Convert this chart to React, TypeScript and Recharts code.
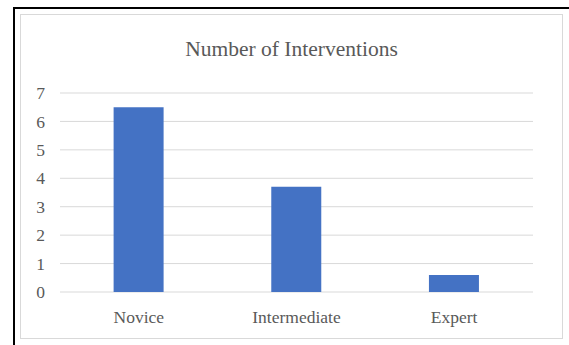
import { BarChart, Bar, XAxis, YAxis, CartesianGrid } from 'recharts';

const levels = ['Novice', 'Intermediate', 'Expert'];
const interventions = [6.5, 3.7, 0.6];
const yTicks = [0, 1, 2, 3, 4, 5, 6, 7];

const chartData = levels.map((level, i) => ({ level, count: interventions[i] }));

const FONT = '"Liberation Serif", "Times New Roman", serif';
const TEXT = '#595959';

export default function App() {
    return (
        <div style={{ position: 'absolute', left: 0, top: 0, width: 569, height: 345, background: '#fff', overflow: 'hidden' }}>
            {/* outer frame */}
            <div
                style={{
                    position: 'absolute',
                    left: 13,
                    top: 7,
                    width: 600,
                    height: 400,
                    borderTop: '2px solid #000',
                    borderLeft: '2px solid #000'
                }}
            />
            {/* chart area border */}
            <div
                style={{
                    position: 'absolute',
                    left: 20,
                    top: 14,
                    width: 543,
                    height: 325,
                    boxSizing: 'border-box',
                    border: '1px solid #d9d9d9'
                }}
            />
            <div
                style={{
                    position: 'absolute',
                    left: 20,
                    top: 39,
                    width: 543,
                    textAlign: 'center',
                    fontFamily: FONT,
                    fontSize: 21.5,
                    lineHeight: '21px',
                    color: TEXT
                }}
            >
                Number of Interventions
            </div>
            <div style={{ position: 'absolute', left: 20, top: 14 }}>
                <BarChart
                    width={543}
                    height={325}
                    data={chartData}
                    margin={{ top: 79, right: 30, left: 0, bottom: 17 }}
                    barCategoryGap="34%"
                >
                    <CartesianGrid vertical={false} stroke="#d9d9d9" />
                    <XAxis
                        dataKey="level"
                        axisLine={false}
                        tickLine={false}
                        tickMargin={13}
                        tick={{ fill: TEXT, fontSize: 17.5, fontFamily: FONT }}
                    />
                    <YAxis
                        width={40}
                        domain={[0, 7]}
                        ticks={yTicks}
                        axisLine={false}
                        tickLine={false}
                        tickMargin={9}
                        tick={{ fill: TEXT, fontSize: 17.5, fontFamily: FONT }}
                    />
                    <Bar dataKey="count" fill="#4472c4" isAnimationActive={false} />
                </BarChart>
            </div>
        </div>
    );
}
